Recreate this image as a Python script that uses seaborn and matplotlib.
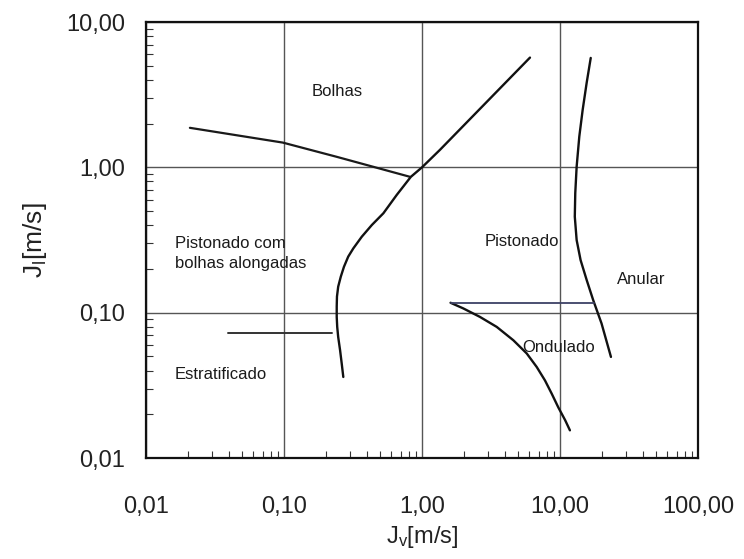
import numpy as np
import pandas as pd
import matplotlib
matplotlib.use("Agg")
import matplotlib.pyplot as plt
from matplotlib.ticker import FuncFormatter, LogLocator, NullFormatter
import seaborn as sns

# Flow-pattern map boundaries (superficial velocities, m/s)
bolhas_x = [0.0208, 0.098, 0.242, 0.82]
bolhas_y = [1.87, 1.48, 1.18, 0.86]

pistonado_x = [6.06, 1.35, 1.0, 0.83, 0.656, 0.525, 0.433, 0.366, 0.318, 0.292,
               0.272, 0.258, 0.247, 0.242, 0.241, 0.241, 0.243, 0.247, 0.255,
               0.262, 0.269]
pistonado_y = [5.69, 1.32, 1.0, 0.86, 0.646, 0.483, 0.401, 0.333, 0.277, 0.243,
               0.207, 0.177, 0.151, 0.129, 0.110, 0.0935, 0.0798, 0.068, 0.055,
               0.0446, 0.0361]

anular_x = [16.7, 15.6, 14.6, 13.8, 13.2, 12.9, 12.8, 13.2, 14.1, 15.6, 17.4,
            20.0, 23.4]
anular_y = [5.66, 3.81, 2.49, 1.63, 1.01, 0.664, 0.458, 0.316, 0.230, 0.168,
            0.122, 0.0843, 0.0496]

ondulado_x = [1.61, 1.99, 2.63, 3.48, 4.59, 5.74, 6.78, 7.78, 8.71, 9.72, 10.9, 11.8]
ondulado_y = [0.117, 0.107, 0.0935, 0.0798, 0.0646, 0.0524, 0.0423, 0.0342,
              0.0277, 0.0223, 0.0182, 0.0155]

estrat_x = [0.0393, 0.223]
estrat_y = [0.0726, 0.0726]

onda_anular_x = [1.61, 17.6]
onda_anular_y = [0.117, 0.117]

region_names = ["Bolhas", "Pistonado com\nbolhas alongadas", "Estratificado",
                "Pistonado", "Anular", "Ondulado"]
region_x = [0.242, 0.0162, 0.0162, 2.86, 25.9, 5.3]
region_y = [3.32, 0.255, 0.0377, 0.311, 0.168, 0.0578]
region_ha = ["center", "left", "left", "left", "left", "left"]

decade_ticks = [0.01, 0.1, 1, 10, 100]

sns.set_style("white")
plt.rcParams["font.family"] = ["Liberation Sans", "DejaVu Sans"]
plt.rcParams["mathtext.default"] = "regular"

fig = plt.figure(figsize=(7.44, 5.59), dpi=100)
ax = fig.add_axes([146 / 744, 1 - 458 / 559, 552 / 744, 436 / 559])

curves = [
    (bolhas_x, bolhas_y, "#1a1a1a", 1.6),
    (pistonado_x, pistonado_y, "#111111", 1.7),
    (anular_x, anular_y, "#111111", 1.7),
    (ondulado_x, ondulado_y, "#111111", 1.7),
    (estrat_x, estrat_y, "#333333", 1.4),
    (onda_anular_x, onda_anular_y, "#3d4166", 1.3),
]
for xs, ys, col, lw in curves:
    df = pd.DataFrame({"jv": xs, "jl": ys})
    sns.lineplot(data=df, x="jv", y="jl", sort=False, estimator=None,
                 color=col, lw=lw, ax=ax)

ax.set_xscale("log")
ax.set_yscale("log")
ax.set_xticks(decade_ticks)
ax.set_yticks(decade_ticks[:-1])
ax.set_xlim(0.01, 100)
ax.set_ylim(0.01, 10)

fmt = FuncFormatter(lambda v, _: f"{v:.2f}".replace(".", ","))
ax.xaxis.set_major_formatter(fmt)
ax.yaxis.set_major_formatter(fmt)
ax.xaxis.set_minor_locator(LogLocator(base=10, subs=np.arange(2, 10)))
ax.yaxis.set_minor_locator(LogLocator(base=10, subs=np.arange(2, 10)))
ax.xaxis.set_minor_formatter(NullFormatter())
ax.yaxis.set_minor_formatter(NullFormatter())

ax.tick_params(which="major", length=0, labelsize=17, labelcolor="#222222")
ax.tick_params(axis="x", which="major", pad=27)
ax.tick_params(axis="y", which="major", pad=15)
ax.tick_params(which="minor", direction="in", length=5, width=0.8,
               color="#333333", bottom=True, left=True, top=False, right=False)

ax.grid(True, which="major", color="#555555", lw=1.0)
ax.grid(False, which="minor")
for s in ax.spines.values():
    s.set_color("#111111")
    s.set_linewidth(1.6)

for name, x, y, ha in zip(region_names, region_x, region_y, region_ha):
    ax.text(x, y, name, ha=ha, va="center", fontsize=12, color="#1a1a1a",
            linespacing=1.4)

ax.set_xlabel("J$_{v}$[m/s]", fontsize=17, color="#222222", labelpad=5)
ax.set_ylabel("J$_{l}$[m/s]", fontsize=19, color="#222222", labelpad=12)

fig.savefig("out.png", dpi=100)
